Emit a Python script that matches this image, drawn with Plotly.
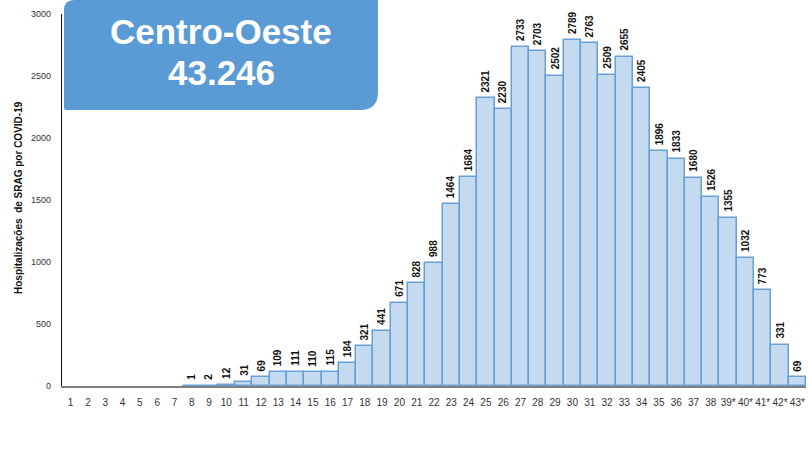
import plotly.graph_objects as go

weeks = [str(w) for w in range(1, 39)] + ["39*", "40*", "41*", "42*", "43*"]
cases = [0, 0, 0, 0, 0, 0, 0, 1, 2, 12, 31, 69, 109, 111, 110, 115, 184, 321,
         441, 671, 828, 988, 1464, 1684, 2321, 2230, 2733, 2703, 2502, 2789,
         2763, 2509, 2655, 2405, 1896, 1833, 1680, 1526, 1355, 1032, 773, 331, 69]
region = "Centro-Oeste"
total = "43.246"
y_title = "Hospitalizações  de SRAG por COVID-19"

W, H = 808, 462
L, R, T, B = 62, 2, 14, 76
pw, ph = W - L - R, H - T - B


def px(x):
    return (x - L) / pw


def py(y):
    return (H - B - y) / ph


fig = go.Figure()
fig.add_trace(go.Bar(
    x=weeks, y=cases,
    marker=dict(color="#C4DAF1",
                line=dict(color="#6A9FD6", width=[1.5 if v > 0 else 0 for v in cases])),
    hoverinfo="x+y",
))

# value labels above bars (rotated); x given as category index
for i, v in enumerate(cases):
    if v <= 0:
        continue
    fig.add_annotation(
        x=i, y=v, text=f"<b>{v}</b>", textangle=-90, showarrow=False,
        xanchor="center", yanchor="bottom", yshift=4,
        font=dict(family="Liberation Sans", size=10, color="#111111"),
    )

# title box with rounded corners
x0, x1, y0, y1 = 64, 378, 0, 110
r1, r2 = 10, 18
path = (
    f"M {px(x0)},{py(y0 + r1)} "
    f"Q {px(x0)},{py(y0)} {px(x0 + r1)},{py(y0)} "
    f"L {px(x1)},{py(y0)} "
    f"L {px(x1)},{py(y1 - r2)} "
    f"Q {px(x1)},{py(y1)} {px(x1 - r2)},{py(y1)} "
    f"L {px(x0 + 2)},{py(y1)} "
    f"Q {px(x0)},{py(y1)} {px(x0)},{py(y1 - 2)} Z"
)
fig.add_shape(type="path", path=path, xref="paper", yref="paper",
              fillcolor="#5B9BD5", line=dict(width=0), layer="above")
fig.add_annotation(x=px(221), y=py(32), xref="paper", yref="paper",
                   xanchor="center", yanchor="middle",
                   text=f"<b>{region}</b>", showarrow=False,
                   font=dict(family="Liberation Sans", size=35, color="white"))
fig.add_annotation(x=px(221), y=py(72), xref="paper", yref="paper",
                   xanchor="center", yanchor="middle",
                   text=f"<b>{total}</b>", showarrow=False,
                   font=dict(family="Liberation Sans", size=35, color="white"))

fig.add_annotation(x=px(18), y=py(198), xref="paper", yref="paper",
                   xanchor="center", yanchor="middle",
                   text=f"<b>{y_title}</b>", textangle=-90, showarrow=False,
                   font=dict(family="Liberation Sans", size=10, color="#111111"))

fig.update_layout(
    width=W, height=H,
    margin=dict(l=L, r=R, t=T, b=B),
    paper_bgcolor="white", plot_bgcolor="white",
    bargap=0, showlegend=False,
    font=dict(family="Liberation Sans", size=9, color="#333333"),
)
fig.update_xaxes(
    type="category", range=[-0.5, len(weeks) - 0.5],
    showline=True, linecolor="#7F7F7F", linewidth=1.5,
    showgrid=False, ticks="outside", ticklen=6, tickcolor="rgba(0,0,0,0)",
    tickfont=dict(size=10, color="#333333"), tickangle=0,
)
fig.update_yaxes(
    range=[0, 3000], tickvals=[0, 500, 1000, 1500, 2000, 2500, 3000],
    showline=True, linecolor="#111111", linewidth=1.2,
    showgrid=False, zeroline=False, ticks="outside", ticklen=8,
    tickcolor="rgba(0,0,0,0)", tickfont=dict(size=9, color="#333333"),
)

fig.write_html("out.html", config={"displayModeBar": False},
               post_script="document.body.style.margin='0';")
